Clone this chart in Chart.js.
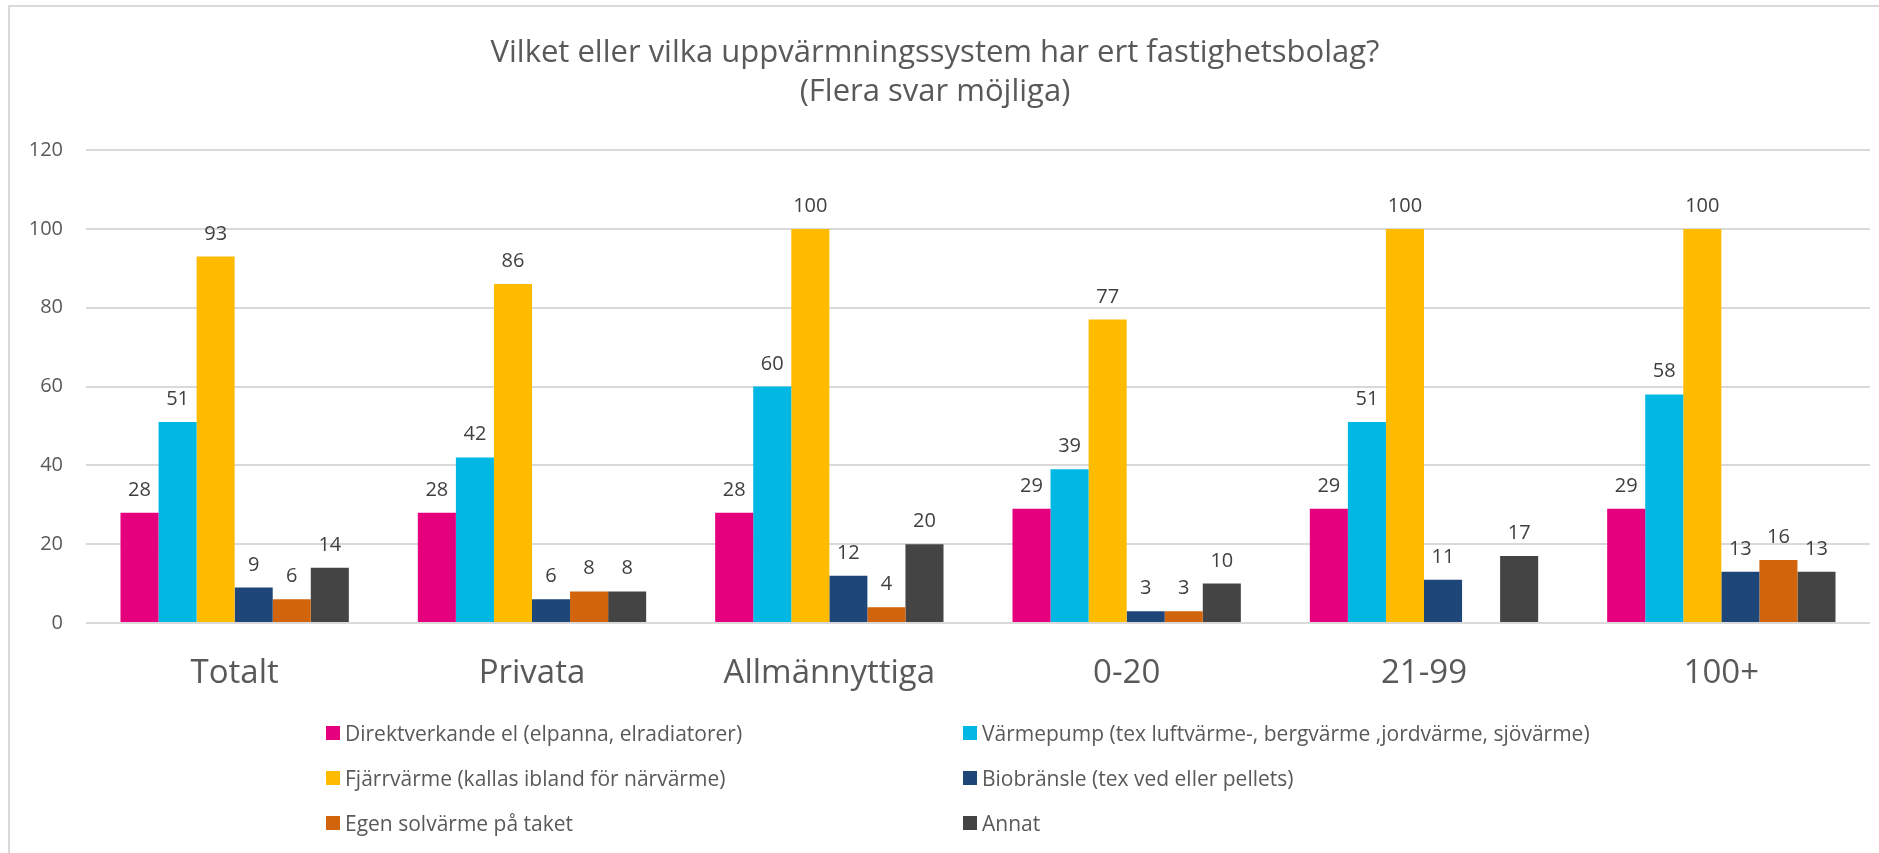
<!DOCTYPE html>
<html>
<head>
<meta charset="utf-8">
<script src="https://cdn.jsdelivr.net/npm/chart.js@4/dist/chart.umd.min.js"></script>
<style>
  html, body { margin: 0; padding: 0; background: #fff; }
  #wrap { position: relative; width: 1879px; height: 853px; overflow: hidden; }
  #frame { position: absolute; left: 8px; top: 5px; width: 1900px; height: 900px;
           border-left: 2px solid #d9d9d9; border-top: 2px solid #d9d9d9; box-sizing: border-box; }
  canvas { position: absolute; left: 0; top: 0; }
  #legend { position: absolute; left: 0; top: 0; width: 1879px; height: 853px; pointer-events: none;
            font-family: "Open Sans", sans-serif; font-size: 21px; color: #595959; }
  .item { position: absolute; display: flex; align-items: center; white-space: nowrap; height: 30px; }
  .box { width: 14px; height: 14px; margin-right: 5px; flex: none; }
</style>
</head>
<body>
<div id="wrap">
  <div id="frame"></div>
  <canvas id="c" width="1879" height="853"></canvas>
  <div id="legend"></div>
</div>
<script>
const titleLines = ["Vilket eller vilka uppvärmningssystem har ert fastighetsbolag?", "(Flera svar möjliga)"];
const categories = ["Totalt", "Privata", "Allmännyttiga", "0-20", "21-99", "100+"];
const seriesNames = [
  "Direktverkande el (elpanna, elradiatorer)",
  "Värmepump (tex luftvärme-, bergvärme ,jordvärme, sjövärme)",
  "Fjärrvärme (kallas ibland för närvärme)",
  "Biobränsle (tex ved eller pellets)",
  "Egen solvärme på taket",
  "Annat"
];
const direktverkande = [28, 28, 28, 29, 29, 29];
const varmepump      = [51, 42, 60, 39, 51, 58];
const fjarrvarme     = [93, 86, 100, 77, 100, 100];
const biobransle     = [9, 6, 12, 3, 11, 13];
const solvarme       = [6, 8, 4, 3, null, 16];
const annat          = [14, 8, 20, 10, 17, 13];
const yTicks = [0, 20, 40, 60, 80, 100, 120];

const seriesValues = [direktverkande, varmepump, fjarrvarme, biobransle, solvarme, annat];
const colors = ["#E5007D", "#00B8E3", "#FFBB00", "#1F4679", "#D2640B", "#444444"];

const FONT = '"Open Sans", sans-serif';

const valueLabels = {
  id: 'valueLabels',
  afterDatasetsDraw(chart) {
    const ctx = chart.ctx;
    ctx.save();
    ctx.font = '20px ' + FONT;
    ctx.fillStyle = '#404040';
    ctx.textAlign = 'center';
    ctx.textBaseline = 'alphabetic';
    chart.data.datasets.forEach((ds, di) => {
      const meta = chart.getDatasetMeta(di);
      meta.data.forEach((el, i) => {
        const v = ds.data[i];
        if (v === null || v === undefined) return;
        ctx.fillText(String(v), el.x, el.y - 17);
      });
    });
    ctx.restore();
  }
};

const chart = new Chart(document.getElementById('c'), {
  type: 'bar',
  data: {
    labels: categories,
    datasets: seriesNames.map((name, i) => ({
      label: name,
      data: seriesValues[i],
      backgroundColor: colors[i],
      borderWidth: 0,
      barPercentage: 1.0,
      categoryPercentage: 0.768
    }))
  },
  options: {
    responsive: false,
    animation: false,
    devicePixelRatio: 1,
    layout: { padding: { left: 0, right: 9, top: 0, bottom: 153 } },
    plugins: {
      legend: { display: false },
      tooltip: { enabled: false },
      title: {
        display: true,
        text: titleLines,
        color: '#595959',
        font: { family: FONT, size: 31, weight: 'normal', lineHeight: 1.26 },
        padding: { top: 34, bottom: 38 }
      }
    },
    scales: {
      x: {
        grid: { display: false, drawTicks: false },
        border: { display: false },
        ticks: { color: '#595959', font: { family: FONT, size: 33 }, padding: 31, maxRotation: 0 },
        afterFit(scale) { scale.height = 77; }
      },
      y: {
        min: 0, max: 120,
        afterBuildTicks(scale) { scale.ticks = yTicks.map(v => ({ value: v })); },
        grid: { color: '#d9d9d9', lineWidth: 2, drawTicks: false },
        border: { display: false },
        ticks: { color: '#595959', font: { family: FONT, size: 20 }, padding: 23 },
        afterFit(scale) { scale.width = 86; }
      }
    }
  },
  plugins: [valueLabels]
});

// Legend (two columns, three rows) built from the series
const legend = document.getElementById('legend');
const colLeft = [326, 963];
const rowCenter = [733, 778, 823];
seriesNames.forEach((name, i) => {
  const col = i % 2, row = Math.floor(i / 2);
  const d = document.createElement('div');
  d.className = 'item';
  d.style.left = colLeft[col] + 'px';
  d.style.top = (rowCenter[row] - 15) + 'px';
  const b = document.createElement('span');
  b.className = 'box';
  b.style.background = colors[i];
  const t = document.createElement('span');
  t.textContent = name;
  d.appendChild(b); d.appendChild(t);
  legend.appendChild(d);
});
</script>
</body>
</html>
